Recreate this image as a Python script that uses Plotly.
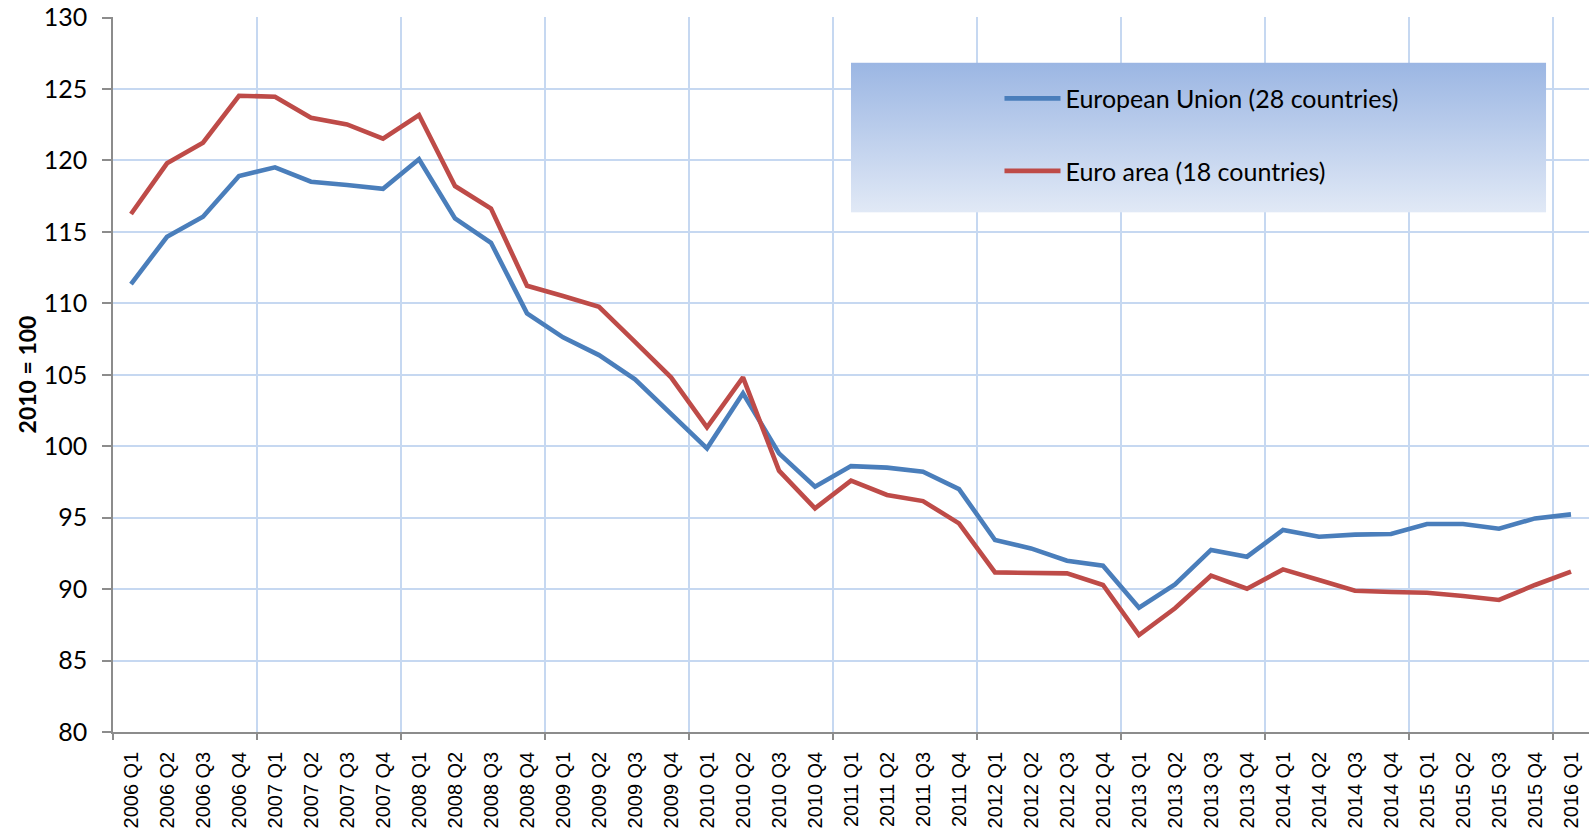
import base64
import plotly.graph_objects as go

quarters = [f"{y} Q{q}" for y in range(2006, 2016) for q in range(1, 5)] + ["2016 Q1"]

eu28 = [111.35, 114.66, 116.06, 118.91, 119.52, 118.51, 118.28, 118.02, 120.08, 115.95,
        114.24, 109.3, 107.62, 106.38, 104.68, 102.3, 99.85, 103.7, 99.5, 97.17,
        98.61, 98.5, 98.22, 97.0, 93.44, 92.85, 91.99, 91.64, 88.7, 90.33,
        92.74, 92.27, 94.14, 93.67, 93.81, 93.86, 94.56, 94.56, 94.23, 94.95, 95.23]

ea18 = [116.25, 119.8, 121.24, 124.53, 124.46, 122.99, 122.52, 121.52, 123.18, 118.21,
        116.64, 111.23, 110.51, 109.76, 107.31, 104.82, 101.32, 104.82, 98.29, 95.65,
        97.59, 96.59, 96.16, 94.6, 91.17, 91.15, 91.1, 90.29, 86.79, 88.66,
        90.94, 90.03, 91.38, 90.64, 89.89, 89.8, 89.75, 89.52, 89.24, 90.29, 91.22]

series_names = ["European Union (28 countries)", "Euro area (18 countries)"]
series_colors = ["#4a7ebb", "#be4b48"]

idx = list(range(len(quarters)))
year_bounds = [i - 0.5 for i in range(0, len(quarters), 4)]

GRID = "#c6d8f1"
AXIS = "#8c8c8c"

fig = go.Figure()
for k, (name, vals, col) in enumerate(zip(series_names, [eu28, ea18], series_colors)):
    fig.add_trace(go.Scatter(
        x=idx, y=vals, mode="lines", name=name,
        line=dict(color=col, width=4.6),
        legendgroup=f"g{k}",
    ))

# invisible trace to drive the overlay axis (year boundaries grid/ticks)
fig.add_trace(go.Scatter(x=[idx[0]], y=[eu28[0]], xaxis="x2", mode="lines",
                         showlegend=False, hoverinfo="skip", line=dict(width=0)))

svg = ("<svg xmlns='http://www.w3.org/2000/svg' width='100' height='100' preserveAspectRatio='none'>"
       "<defs><linearGradient id='g' x1='0' y1='0' x2='0' y2='1'>"
       "<stop offset='0' stop-color='#9bb6e3'/><stop offset='1' stop-color='#e1e9f6'/>"
       "</linearGradient></defs><rect width='100' height='100' fill='url(#g)'/></svg>")
svg_uri = "data:image/svg+xml;base64," + base64.b64encode(svg.encode()).decode()

fig.update_layout(
    width=1596, height=832,
    margin=dict(l=113, r=7, t=17, b=100, autoexpand=False),
    paper_bgcolor="white", plot_bgcolor="white",
    font=dict(family="Lato, 'Open Sans', sans-serif", color="black"),
    showlegend=True,
    legend=dict(
        x=0.6006, y=0.918, xanchor="left", yanchor="top",
        bgcolor="rgba(0,0,0,0)", borderwidth=0,
        font=dict(family="Lato", size=25, color="black"),
        itemwidth=56, tracegroupgap=37, traceorder="grouped",
    ),
    images=[dict(source=svg_uri, xref="paper", yref="paper",
                 x=0.5, y=0.9363, sizex=0.471, sizey=0.2099,
                 xanchor="left", yanchor="top", sizing="stretch", layer="above")],
    xaxis=dict(
        range=[-0.5, len(quarters) - 0.5], automargin=False,
        tickmode="array", tickvals=idx, ticktext=quarters,
        tickangle=-90, ticks="", showgrid=False, zeroline=False,
        showline=True, linecolor=AXIS, linewidth=1.5,
        tickfont=dict(family="Liberation Sans", size=20, color="black"),
        ticklabelstandoff=10,
    ),
    xaxis2=dict(
        overlaying="x", matches="x", side="bottom", automargin=False,
        tickmode="array", tickvals=year_bounds, showticklabels=False,
        ticks="outside", ticklen=7, tickcolor=AXIS, tickwidth=1.5,
        showgrid=True, gridcolor=GRID, gridwidth=1.5,
        showline=False, zeroline=False,
    ),
    yaxis=dict(
        range=[80, 130.04], dtick=5, tick0=80, automargin=False,
        ticks="outside", ticklen=9, tickcolor=AXIS, tickwidth=1.5,
        showgrid=True, gridcolor=GRID, gridwidth=1.5, zeroline=False,
        showline=True, linecolor=AXIS, linewidth=1.5,
        tickfont=dict(family="Lato", size=25, color="black"),
        ticklabelstandoff=10, ticklabeloverflow="allow",
        title=dict(text="<b>2010 = 100</b>", font=dict(family="Lato", size=23, color="black"),
                   standoff=1),
    ),
)

fig.write_html("out.html", config={"displayModeBar": False},
               post_script="document.body.style.margin='0';")
